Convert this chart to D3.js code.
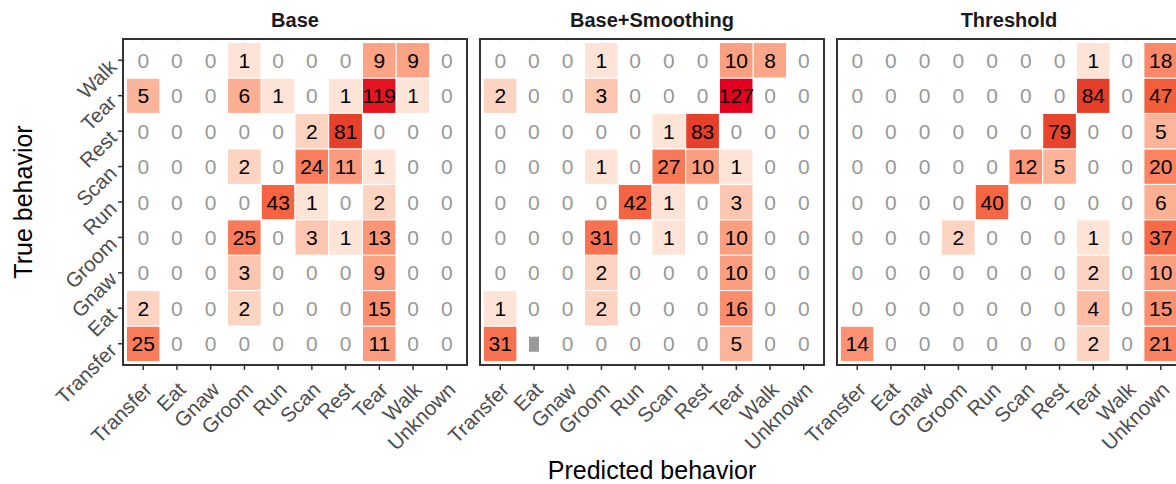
<!DOCTYPE html>
<html>
<head>
<meta charset="utf-8">
<script src="https://cdn.jsdelivr.net/npm/d3@7"></script>
<style>
  body { margin: 0; overflow: hidden; background: #fff; }
  text { font-family: "Liberation Sans", Arial, sans-serif; }
</style>
</head>
<body>
<div class="chart"></div>
<script>
// rows = true behavior (bottom to top), columns = predicted behavior
const panels = ["Base", "Base+Smoothing", "Threshold"];
const trueBehaviors = ["Transfer", "Eat", "Gnaw", "Groom", "Run", "Scan", "Rest", "Tear", "Walk"];
const predBehaviors = ["Transfer", "Eat", "Gnaw", "Groom", "Run", "Scan", "Rest", "Tear", "Walk", "Unknown"];

const baseCounts = [
  [25, 0, 0, 0, 0, 0, 0, 11, 0, 0],
  [2, 0, 0, 2, 0, 0, 0, 15, 0, 0],
  [0, 0, 0, 3, 0, 0, 0, 9, 0, 0],
  [0, 0, 0, 25, 0, 3, 1, 13, 0, 0],
  [0, 0, 0, 0, 43, 1, 0, 2, 0, 0],
  [0, 0, 0, 2, 0, 24, 11, 1, 0, 0],
  [0, 0, 0, 0, 0, 2, 81, 0, 0, 0],
  [5, 0, 0, 6, 1, 0, 1, 119, 1, 0],
  [0, 0, 0, 1, 0, 0, 0, 9, 9, 0]
];
const smoothCounts = [
  [31, null, 0, 0, 0, 0, 0, 5, 0, 0],
  [1, 0, 0, 2, 0, 0, 0, 16, 0, 0],
  [0, 0, 0, 2, 0, 0, 0, 10, 0, 0],
  [0, 0, 0, 31, 0, 1, 0, 10, 0, 0],
  [0, 0, 0, 0, 42, 1, 0, 3, 0, 0],
  [0, 0, 0, 1, 0, 27, 10, 1, 0, 0],
  [0, 0, 0, 0, 0, 1, 83, 0, 0, 0],
  [2, 0, 0, 3, 0, 0, 0, 127, 0, 0],
  [0, 0, 0, 1, 0, 0, 0, 10, 8, 0]
];
const thresholdCounts = [
  [14, 0, 0, 0, 0, 0, 0, 2, 0, 21],
  [0, 0, 0, 0, 0, 0, 0, 4, 0, 15],
  [0, 0, 0, 0, 0, 0, 0, 2, 0, 10],
  [0, 0, 0, 2, 0, 0, 0, 1, 0, 37],
  [0, 0, 0, 0, 40, 0, 0, 0, 0, 6],
  [0, 0, 0, 0, 0, 12, 5, 0, 0, 20],
  [0, 0, 0, 0, 0, 0, 79, 0, 0, 5],
  [0, 0, 0, 0, 0, 0, 0, 84, 0, 47],
  [0, 0, 0, 0, 0, 0, 0, 1, 0, 18]
];
const panelCounts = [baseCounts, smoothCounts, thresholdCounts];

const W = 1176, H = 484;
const marginLeft = 123, marginTop = 39;
const panelW = 344, panelH = 326, gap = 13;

const svg = d3.select(".chart").append("svg")
  .attr("width", W).attr("height", H);

const x = d3.scaleBand().domain(predBehaviors).range([0, panelW])
  .paddingInner(0).paddingOuter(0.1);
const y = d3.scaleBand().domain(trueBehaviors.slice().reverse()).range([0, panelH])
  .paddingInner(0).paddingOuter(0.1);

const color = d3.scaleLog()
  .domain([1, 2, 5, 10, 25, 45, 85, 127])
  .range(["#fee3d7", "#fdd3c1", "#fcb59a", "#fc9f81", "#fa7b5a", "#f4613f", "#e63e29", "#e3001e"])
  .interpolate(d3.interpolateLab)
  .clamp(true);

function cells(counts) {
  const out = [];
  counts.forEach((row, i) => {
    row.forEach((v, j) => {
      out.push({ truth: trueBehaviors[i], pred: predBehaviors[j], value: v });
    });
  });
  return out;
}

panels.forEach((name, p) => {
  const g = svg.append("g")
    .attr("transform", `translate(${marginLeft + p * (panelW + gap)},${marginTop})`);

  // faint grid, mostly hidden under the tiles
  g.append("g").selectAll("line").data(predBehaviors).join("line")
    .attr("x1", d => x(d) + x.bandwidth() / 2).attr("x2", d => x(d) + x.bandwidth() / 2)
    .attr("y1", 0).attr("y2", panelH)
    .attr("stroke", "#ebebeb").attr("stroke-width", 1);
  g.append("g").selectAll("line").data(trueBehaviors).join("line")
    .attr("y1", d => y(d) + y.bandwidth() / 2).attr("y2", d => y(d) + y.bandwidth() / 2)
    .attr("x1", 0).attr("x2", panelW)
    .attr("stroke", "#ebebeb").attr("stroke-width", 1);

  const data = cells(panelCounts[p]);

  g.append("g").selectAll("rect").data(data).join("rect")
    .attr("x", d => x(d.pred))
    .attr("y", d => y(d.truth))
    .attr("width", x.bandwidth())
    .attr("height", y.bandwidth())
    .attr("fill", d => (d.value > 0 ? color(d.value) : "#ffffff"))
    .attr("stroke", "#ffffff")
    .attr("stroke-width", 1);

  // odd grey block where a label is missing
  g.append("g").selectAll("rect").data(data.filter(d => d.value === null)).join("rect")
    .attr("x", d => x(d.pred) + x.bandwidth() / 2 - 5)
    .attr("y", d => y(d.truth) + y.bandwidth() / 2 - 7)
    .attr("width", 10).attr("height", 15)
    .attr("fill", "#999999");

  g.append("g").selectAll("text").data(data.filter(d => d.value !== null)).join("text")
    .attr("x", d => x(d.pred) + x.bandwidth() / 2)
    .attr("y", d => y(d.truth) + y.bandwidth() / 2)
    .attr("dy", "0.36em")
    .attr("text-anchor", "middle")
    .attr("font-size", 21)
    .attr("fill", d => (d.value > 0 ? "#000000" : "#999999"))
    .text(d => d.value);

  g.append("rect")
    .attr("width", panelW).attr("height", panelH)
    .attr("fill", "none").attr("stroke", "#333333").attr("stroke-width", 2);

  // strip title
  g.append("text")
    .attr("x", panelW / 2).attr("y", -12)
    .attr("text-anchor", "middle")
    .attr("font-size", 20).attr("font-weight", "bold")
    .attr("fill", "#1a1a1a")
    .text(name);

  // x axis
  const xa = g.append("g")
    .attr("transform", `translate(0,${panelH})`)
    .call(d3.axisBottom(x).tickSize(5).tickSizeOuter(0));
  xa.select(".domain").remove();
  xa.selectAll(".tick line").attr("stroke", "#333333").attr("stroke-width", 1.5);
  xa.selectAll(".tick text")
    .attr("y", 0).attr("dy", 0)
    .attr("transform", "translate(10,26) rotate(-45)")
    .attr("text-anchor", "end")
    .attr("font-size", 20.5)
    .attr("fill", "#4d4d4d");

  if (p === 0) {
    const ya = g.append("g")
      .call(d3.axisLeft(y).tickSize(5).tickSizeOuter(0));
    ya.select(".domain").remove();
    ya.selectAll(".tick line").attr("stroke", "#333333").attr("stroke-width", 1.5);
    ya.selectAll(".tick text")
      .attr("x", 0).attr("dy", 0)
      .attr("transform", "translate(-5,8) rotate(-45)")
      .attr("text-anchor", "end")
      .attr("font-size", 20.5)
      .attr("fill", "#4d4d4d");
  }
  g.selectAll("g").filter(function () { return this.getAttribute("font-family"); })
    .attr("font-family", null).attr("font-size", null);
});

svg.append("text")
  .attr("transform", `translate(32,${marginTop + panelH / 2}) rotate(-90)`)
  .attr("text-anchor", "middle")
  .attr("font-size", 25)
  .attr("fill", "#000")
  .text("True behavior");

svg.append("text")
  .attr("x", marginLeft + (3 * panelW + 2 * gap) / 2)
  .attr("y", 479)
  .attr("text-anchor", "middle")
  .attr("font-size", 25)
  .attr("fill", "#000")
  .text("Predicted behavior");
</script>
</body>
</html>
